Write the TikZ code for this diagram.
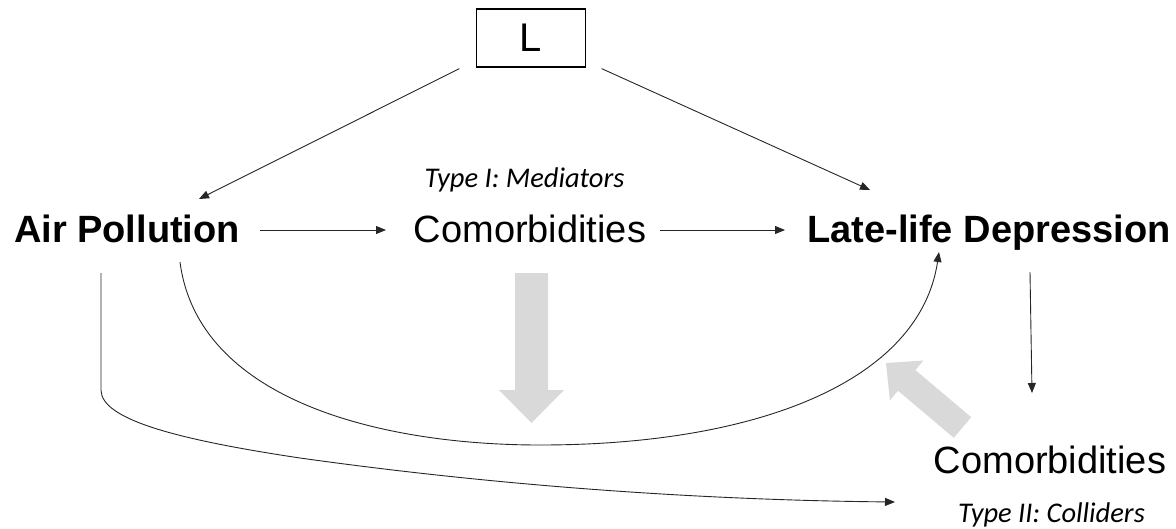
\documentclass[tikz,border=0pt]{standalone}
\usepackage{fontspec}
\setmainfont{Liberation Sans}
\newfontfamily\calib{Carlito}
\usetikzlibrary{arrows.meta,calc}
\definecolor{blockgray}{RGB}{217,217,217}
\begin{document}
\begin{tikzpicture}[x=1pt,y=-1pt,
  arr/.style={draw=black!85, line width=0.9pt, -{Triangle[length=10pt,width=8pt]}},
  mainlbl/.style={inner sep=0pt, anchor=base, font=\fontsize{38}{40}\selectfont},
  typelbl/.style={inner sep=0pt, anchor=base, font=\calib\itshape\fontsize{28.5}{30}\selectfont},
  lbox/.style={draw, line width=1.2pt, minimum width=109pt, minimum height=58pt, inner sep=0pt, font=\fontsize{40}{42}\selectfont},
  block/.style={fill=blockgray, draw=none}]
\useasboundingbox (0,0) rectangle (1176,528);

% nodes
\node[lbox] (L) at (531,38) {L};
\node[mainlbl] (ap) at (127,242) {\bfseries Air Pollution};
\node[mainlbl] (c1) at (530,242) {Comorbidities};
\node[mainlbl] (ld) at (989,242) {\bfseries Late-life Depression};
\node[mainlbl] (c2) at (1050,473) {Comorbidities};
\node[typelbl] (t1) at (524.5,187) {Type I: Mediators};
\node[typelbl] (t2) at (1051.5,522) {Type II: Colliders};

% block arrows
\fill[block] (515,273) -- (548,273) -- (548,390) -- (564,390) -- (531.5,423) -- (499,390) -- (515,390) -- cycle;
\fill[block] (971.2,417.2) -- (915.4,370.1) -- (923.5,360.5) -- (886.0,363.0) -- (889.9,400.3) -- (898.0,390.7) -- (953.8,437.8) -- cycle;

% connectors
\draw[arr] ($(L.south west)+(-16.5,1)$) -- ($(ap.base)+(72,-43)$);
\draw[arr] ($(L.south east)+(15.5,1)$) -- ($(ld.base)+(-119,-52)$);
\draw[arr] ($(ap.base)+(133,-12)$) -- ($(c1.base)+(-144,-12)$);
\draw[arr] ($(c1.base)+(130,-12)$) -- ($(ld.base)+(-204,-12)$);
\draw[arr] ($(ld.base)+(41,30)$) -- ($(c2.base)+(-18,-80)$);
\draw[arr] ($(ap.base)+(53,20)$) .. controls (198,400) and (380,445) .. (540,445)
   .. controls (760,445) and (920,380) .. ($(ld.base)+(-50,10)$);
\draw[arr] ($(ap.base)+(-26,31)$) -- (101,390) .. controls (101,420) and (180,440) .. (300,458)
   .. controls (500,486) and (700,500) .. ($(c2.base)+(-155,29)$);
\end{tikzpicture}
\end{document}
